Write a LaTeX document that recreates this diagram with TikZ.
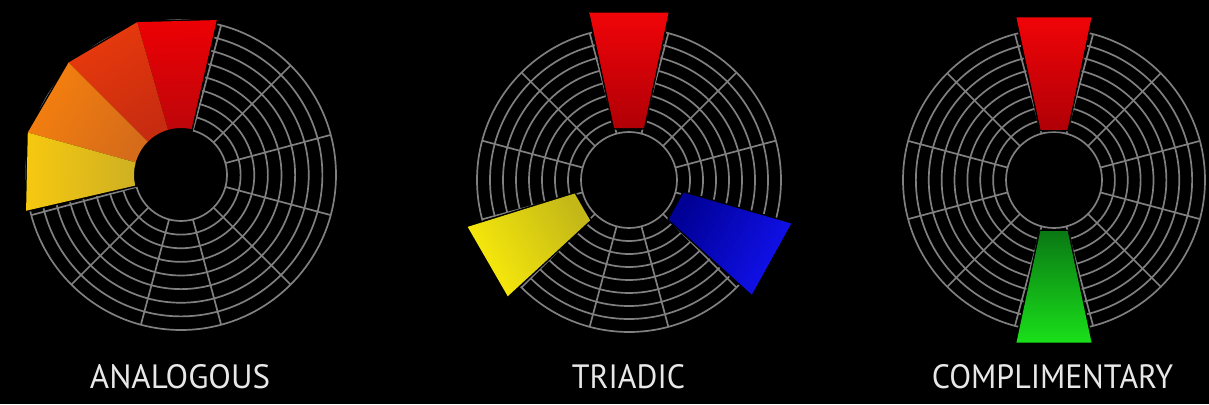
\documentclass[tikz,border=0pt]{standalone}
\usepackage{fontspec}
\setsansfont{PT Sans}
\definecolor{gridc}{RGB}{128,128,128}
\definecolor{labelc}{RGB}{232,232,232}
% analogous
\definecolor{redO}{RGB}{236,0,4}
\definecolor{redI}{RGB}{190,6,10}
\definecolor{roO}{RGB}{232,58,12}
\definecolor{roI}{RGB}{200,44,16}
\definecolor{orO}{RGB}{246,128,14}
\definecolor{orI}{RGB}{214,108,26}
\definecolor{yeO}{RGB}{246,200,16}
\definecolor{yeI}{RGB}{206,176,34}
% triadic / complimentary
\definecolor{tredO}{RGB}{240,4,8}
\definecolor{tredI}{RGB}{176,0,6}
\definecolor{tyeO}{RGB}{250,236,10}
\definecolor{tyeI}{RGB}{196,184,24}
\definecolor{tblO}{RGB}{18,18,240}
\definecolor{tblI}{RGB}{0,0,150}
\definecolor{tgrO}{RGB}{26,224,26}
\definecolor{tgrI}{RGB}{10,120,20}
% grid of one wheel: #1 inner radius, #2 outer radius
\newcommand\wheelgrid[2]{%
  \foreach \k in {0,...,8}{\draw[gridline] (0,0) circle ({#1+(#2-#1)*\k/8});}%
  \foreach \a in {15,45,...,345}{\draw[gridline] (\a:#1) -- (\a:#2);}%
}
% fan sector with straight outer chord: #1 a1, #2 a2, #3 rin, #4 rout, #5 outer col, #6 inner col, #7 shading angle
\newcommand\fansector[7]{%
  \shade[top color=#5, bottom color=#6, shading angle=#7]
    (#1:#3) arc[start angle=#1, end angle=#2, radius=#3] -- (#2:#4) -- (#1:#4) -- cycle;%
}
% trapezoid highlight: #1 mid angle, #2 inner half angle, #3 outer half angle, #4 rin, #5 rout, #6 outer col, #7 inner col, #8 shading angle
\newcommand\trap[8]{%
  \filldraw[black, line width=3pt, line join=round]
    ({#1-#2}:#4) -- ({#1-#3}:#5) -- ({#1+#3}:#5) -- ({#1+#2}:#4) -- cycle;%
  \shade[top color=#6, bottom color=#7, shading angle=#8]
    ({#1-#2}:#4) -- ({#1-#3}:#5) -- ({#1+#3}:#5) -- ({#1+#2}:#4) -- cycle;%
}
\begin{document}
\begin{tikzpicture}[x=1pt,y=1pt,
  gridline/.style={draw=gridc, line width=1.7pt},
  lbl/.style={text=labelc, inner sep=0pt, font=\sffamily}]
\fill[black] (0,0) rectangle (1209,404);
\useasboundingbox (0,0) rectangle (1209,404);

% ---------- ANALOGOUS ----------
\begin{scope}[shift={(181,229)}]
  \wheelgrid{46}{155}
  \filldraw[black, line width=3pt, line join=round]
    (77:44) arc[start angle=77, end angle=193, radius=44]
    -- (193:159) -- (164.5:159) -- (135:159) -- (106:159) -- (77:159) -- cycle;
  \fansector{77}{106}{47}{159}{redO}{redI}{1.5}
  \fansector{106}{135}{47}{159}{roO}{roI}{30.5}
  \fansector{135}{164.5}{47}{159}{orO}{orI}{59.75}
  \fansector{164.5}{193}{47}{159}{yeO}{yeI}{88.75}
\end{scope}

% ---------- TRIADIC ----------
\begin{scope}[shift={(629,224)}]
  \wheelgrid{48}{152}
  \trap{90}{16}{13.3}{54}{172}{tredO}{tredI}{0}
  \trap{210}{16}{13.8}{56}{168}{tyeO}{tyeI}{120}
  \trap{331}{16}{14}{56}{168}{tblO}{tblI}{241}
\end{scope}

% ---------- COMPLIMENTARY ----------
\begin{scope}[shift={(1054,224)}]
  \wheelgrid{48}{151}
  \trap{90}{15}{13}{52}{167}{tredO}{tredI}{0}
  \trap{270}{15}{13}{53}{167}{tgrO}{tgrI}{180}
\end{scope}

% ---------- labels ----------
\node[lbl] (ana) at (180,27) {\resizebox{180pt}{24pt}{ANALOGOUS}};
\node[lbl] (tri) at (628.5,27) {\resizebox{113pt}{24pt}{TRIADIC}};
\node[lbl] (com) at (1052.5,27) {\resizebox{241pt}{24pt}{COMPLIMENTARY}};
\end{tikzpicture}
\end{document}
